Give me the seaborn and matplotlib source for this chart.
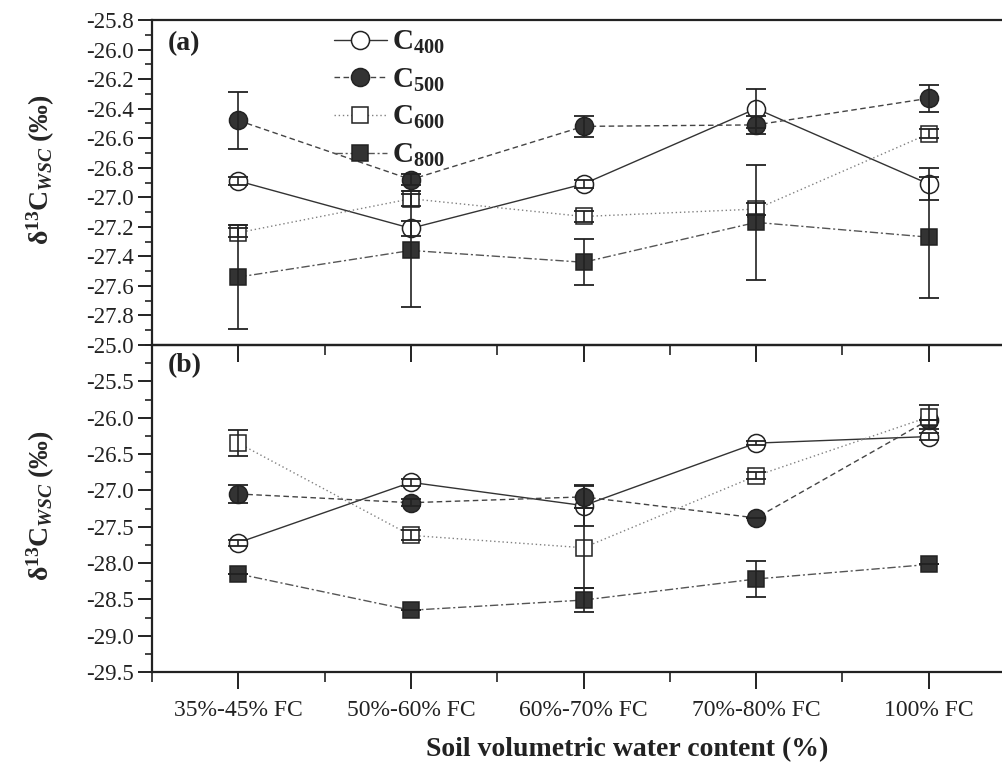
import numpy as np
import matplotlib
matplotlib.use("Agg")
import matplotlib.pyplot as plt
import seaborn as sns
from matplotlib.ticker import MultipleLocator, FormatStrFormatter

# ---------------- data ----------------
categories = ["35%-45% FC", "50%-60% FC", "60%-70% FC", "70%-80% FC", "100% FC"]
series_names = ["400", "500", "600", "800"]

# panel (a)
a_c400 = [-26.89, -27.21, -26.91, -26.40, -26.91]
a_c400_err = [0.03, 0.05, 0.03, 0.13, 0.11]
a_c500 = [-26.48, -26.88, -26.52, -26.51, -26.33]
a_c500_err = [0.19, 0.04, 0.07, 0.06, 0.09]
a_c600 = [-27.24, -27.01, -27.13, -27.08, -26.57]
a_c600_err = [0.03, 0.05, 0.04, 0.04, 0.03]
a_c800 = [-27.54, -27.36, -27.44, -27.17, -27.27]
a_c800_err = [0.35, 0.38, 0.155, 0.39, 0.41]

# panel (b)
b_c400 = [-27.72, -26.89, -27.21, -26.35, -26.26]
b_c400_err = [0.04, 0.05, 0.28, 0.03, 0.05]
b_c500 = [-27.05, -27.17, -27.09, -27.38, -26.03]
b_c500_err = [0.12, 0.05, 0.15, 0.0, 0.0]
b_c600 = [-26.35, -27.62, -27.79, -26.80, -25.99]
b_c600_err = [0.18, 0.07, 0.55, 0.05, 0.17]
b_c800 = [-28.15, -28.65, -28.51, -28.22, -28.02]
b_c800_err = [0.0, 0.0, 0.16, 0.25, 0.0]

a_ticks = [-25.8, -26.0, -26.2, -26.4, -26.6, -26.8, -27.0, -27.2, -27.4, -27.6, -27.8]
b_ticks = [-25.0, -25.5, -26.0, -26.5, -27.0, -27.5, -28.0, -28.5, -29.0, -29.5]

# ---------------- style ----------------
sns.set_style("ticks")
plt.rcParams["font.family"] = ["Liberation Serif", "DejaVu Serif"]
plt.rcParams["mathtext.fontset"] = "custom"
plt.rcParams["mathtext.rm"] = "Liberation Serif"
plt.rcParams["mathtext.it"] = "Liberation Serif:italic"
plt.rcParams["mathtext.bf"] = "Liberation Serif:bold"
plt.rcParams["mathtext.bfit"] = "Liberation Serif:bold:italic"
plt.rcParams["axes.unicode_minus"] = False

INK = "#222222"
styles = [
    dict(marker="o", markersize=13, mfc="white", ls="-", color="#333333"),
    dict(marker="o", markersize=13, mfc="#333333", ls=(0, (4, 2.5)), color="#444444"),
    dict(marker="s", markersize=12, mfc="white", ls=(0, (1, 2)), color="#808080"),
    dict(marker="s", markersize=12, mfc="#333333", ls=(0, (6, 2, 1.5, 2)), color="#555555"),
]

fig = plt.figure(figsize=(10.03, 7.73), dpi=100)
L, R = 152 / 1003, 1.0
ax1 = fig.add_axes([L, 1 - 345 / 773, R - L, (345 - 20) / 773])
ax2 = fig.add_axes([L, 1 - 672 / 773, R - L, (672 - 345) / 773])
ax1.set_zorder(3)
for ax in (ax1, ax2):
    ax.patch.set_visible(False)

x = np.arange(len(categories))
panels = [
    (ax1, [a_c400, a_c500, a_c600, a_c800], [a_c400_err, a_c500_err, a_c600_err, a_c800_err]),
    (ax2, [b_c400, b_c500, b_c600, b_c800], [b_c400_err, b_c500_err, b_c600_err, b_c800_err]),
]

for ax, vals, errs in panels:
    for i, (v, e, st) in enumerate(zip(vals, errs, styles)):
        sns.lineplot(x=x, y=v, ax=ax, color=st["color"], linestyle=st["ls"], linewidth=1.0,
                     marker=st["marker"], markersize=st["markersize"],
                     markerfacecolor=st["mfc"], markeredgecolor=INK, markeredgewidth=1.1,
                     label=r"$\mathbf{C}_{\mathbf{%s}}$" % series_names[i], zorder=2 + i)
        ax.errorbar(x, v, yerr=e, fmt="none", ecolor=INK, elinewidth=1.2,
                    capsize=7, capthick=1.3, zorder=10)
    ax.set_xlim(-0.5, 4.43)
    ax.set_xticks(x)
    ax.xaxis.set_minor_locator(MultipleLocator(0.5))
    ax.spines["right"].set_visible(False)
    for s in ("left", "bottom", "top"):
        ax.spines[s].set_linewidth(1.6)
        ax.spines[s].set_color(INK)
    ax.set_xlabel("")
    ax.set_ylabel(r"$\mathbf{\delta^{13}C}_{\mathbfit{WSC}}$ (‰)", fontsize=20,
                  fontweight="bold")

# panel (a) axes
ax1.set_ylim(-28.0, -25.8)
ax1.set_yticks(a_ticks)
ax1.yaxis.set_minor_locator(MultipleLocator(0.1))
ax1.yaxis.set_major_formatter(FormatStrFormatter("%.1f"))
ax1.tick_params(axis="y", which="major", length=10, width=1.4, direction="out",
                labelsize=16.5, colors=INK, pad=3)
ax1.tick_params(axis="y", which="minor", length=5, width=1.2, direction="out", colors=INK)
ax1.tick_params(axis="x", which="major", length=12, width=1.4, direction="out",
                labelbottom=False, colors=INK)
ax1.tick_params(axis="x", which="minor", length=7, width=1.2, direction="out", colors=INK)
ax1.yaxis.set_label_coords(-0.112, 0.54)
ax1.text(0.018, 0.965, "(a)", transform=ax1.transAxes, fontsize=20, fontweight="bold",
         va="top", ha="left", color=INK)
leg = ax1.legend(loc="upper left", bbox_to_anchor=(0.214, 0.973), frameon=False,
                 fontsize=21, handlelength=1.8, handletextpad=0.2, labelspacing=0.36,
                 borderpad=0.0, borderaxespad=0.0)
for t in leg.get_texts():
    t.set_color(INK)

# panel (b) axes
ax2.set_ylim(-29.5, -25.0)
ax2.set_yticks(b_ticks)
ax2.yaxis.set_minor_locator(MultipleLocator(0.25))
ax2.yaxis.set_major_formatter(FormatStrFormatter("%.1f"))
ax2.tick_params(axis="y", which="major", length=10, width=1.4, direction="out",
                labelsize=16.5, colors=INK, pad=3)
ax2.tick_params(axis="y", which="minor", length=5, width=1.2, direction="out", colors=INK)
ax2.tick_params(axis="x", which="major", length=12, width=1.4, direction="out",
                labelsize=17, colors=INK, pad=8)
ax2.tick_params(axis="x", which="minor", length=7, width=1.2, direction="out", colors=INK)
ax2.set_xticklabels(categories)
ax2.yaxis.set_label_coords(-0.112, 0.51)
ax2.legend_.remove()
ax2.text(0.018, 0.975, "(b)", transform=ax2.transAxes, fontsize=20, fontweight="bold",
         va="top", ha="left", color=INK)
ax2.set_xlabel("Soil volumetric water content (%)", fontsize=20, fontweight="bold",
               color=INK)
ax2.xaxis.set_label_coords(0.558, -0.2)
ax2.xaxis.label.set_va("top")

fig.savefig("out.png", dpi=100)
